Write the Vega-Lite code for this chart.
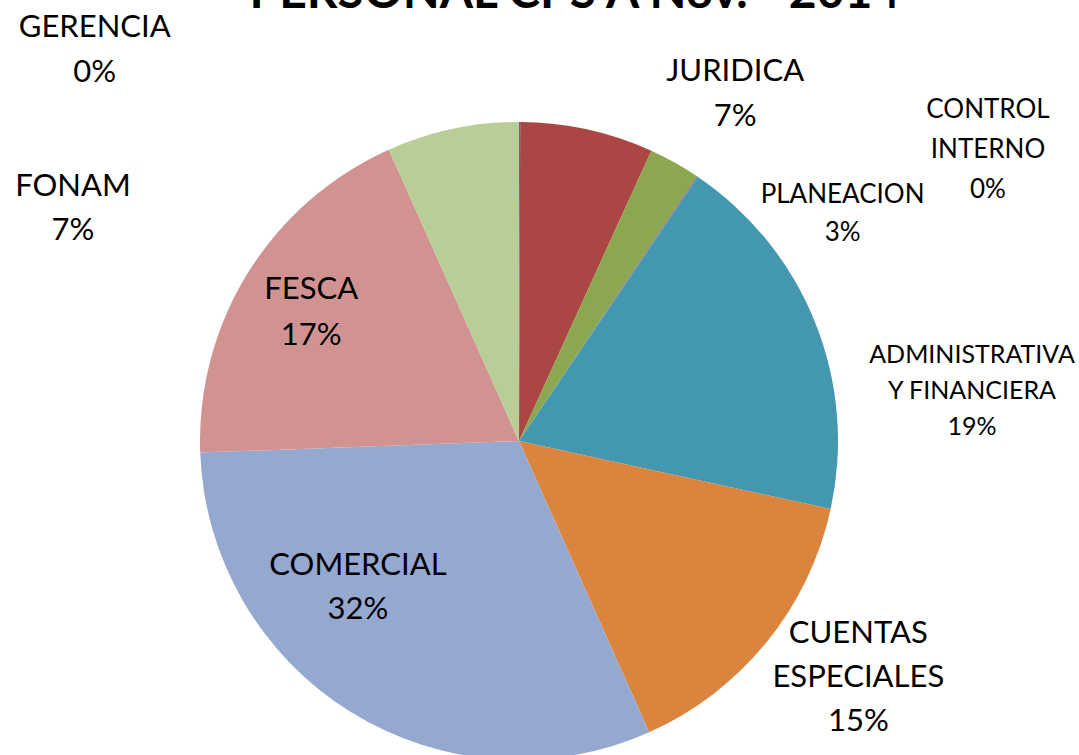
{
  "$schema": "https://vega.github.io/schema/vega-lite/v6.json",
  "width": 1038,
  "height": 882,
  "autosize": {"type": "none"},
  "padding": {"left": 0, "top": 0, "right": 41, "bottom": 0},
  "background": "white",
  "config": {"view": {"stroke": null}, "text": {"font": "Lato", "color": "black", "align": "center", "baseline": "middle", "lineBreak": "\n"}},
  "data": {"values": [
    {"order": 1, "name": "GERENCIA", "value": 0.06, "label": "GERENCIA\n0%"},
    {"order": 2, "name": "JURIDICA", "value": 6.75, "label": "JURIDICA\n7%"},
    {"order": 3, "name": "PLANEACION", "value": 2.61, "label": "PLANEACION\n3%"},
    {"order": 4, "name": "CONTROL INTERNO", "value": 0.06, "label": "CONTROL\nINTERNO\n0%"},
    {"order": 5, "name": "ADMINISTRATIVA Y FINANCIERA", "value": 18.94, "label": "ADMINISTRATIVA\nY FINANCIERA\n19%"},
    {"order": 6, "name": "CUENTAS ESPECIALES", "value": 14.89, "label": "CUENTAS\nESPECIALES\n15%"},
    {"order": 7, "name": "COMERCIAL", "value": 31.11, "label": "COMERCIAL\n32%"},
    {"order": 8, "name": "FESCA", "value": 18.89, "label": "FESCA\n17%"},
    {"order": 9, "name": "FONAM", "value": 6.69, "label": "FONAM\n7%"}
  ]},
  "encoding": {
    "theta": {"field": "value", "type": "quantitative", "stack": true},
    "order": {"field": "order", "type": "quantitative"},
    "detail": {"field": "name", "type": "nominal"}
  },
  "layer": [
    {
      "mark": {"type": "arc", "outerRadius": 319},
      "encoding": {
        "color": {"field": "name", "type": "nominal", "legend": null,
          "scale": {"domain": ["GERENCIA", "JURIDICA", "PLANEACION", "CONTROL INTERNO", "ADMINISTRATIVA Y FINANCIERA", "CUENTAS ESPECIALES", "COMERCIAL", "FESCA", "FONAM"],
                    "range": ["#4572A7", "#AA4643", "#8BA74F", "#80699B", "#4398AF", "#DB843D", "#95A9D0", "#D19392", "#B9CD96"]}}
      }
    },
    {"mark": {"type": "text", "fontSize": 48, "fontWeight": "bold", "baseline": "alphabetic", "dx": 55}, "encoding": {"radius": {"value": 433}, "text": {"condition": {"test": "datum.order === 1", "value": "PERSONAL CPS A Nov. - 2014"}, "value": ""}}},
    {"mark": {"type": "text", "fontSize": 31, "lineHeight": 45, "dx": -425, "dy": -23.5}, "encoding": {"radius": {"value": 390}, "text": {"condition": {"test": "datum.name === 'GERENCIA'", "field": "label"}, "value": ""}}},
    {"mark": {"type": "text", "fontSize": 31, "lineHeight": 45, "dx": 137, "dy": -7.5}, "encoding": {"radius": {"value": 370}, "text": {"condition": {"test": "datum.name === 'JURIDICA'", "field": "label"}, "value": ""}}},
    {"mark": {"type": "text", "fontSize": 26, "lineHeight": 38, "dx": 143, "dy": 77}, "encoding": {"radius": {"value": 370}, "text": {"condition": {"test": "datum.name === 'PLANEACION'", "field": "label"}, "value": ""}}},
    {"mark": {"type": "text", "fontSize": 26, "lineHeight": 40, "dx": 234, "dy": 17}, "encoding": {"radius": {"value": 420}, "text": {"condition": {"test": "datum.name === 'CONTROL INTERNO'", "field": "label"}, "value": ""}}},
    {"mark": {"type": "text", "fontSize": 25, "lineHeight": 36, "dx": 63, "dy": 70}, "encoding": {"radius": {"value": 420}, "text": {"condition": {"test": "datum.name === 'ADMINISTRATIVA Y FINANCIERA'", "field": "label"}, "value": ""}}},
    {"mark": {"type": "text", "fontSize": 31, "lineHeight": 44, "dx": 29, "dy": -59}, "encoding": {"radius": {"value": 400}, "text": {"condition": {"test": "datum.name === 'CUENTAS ESPECIALES'", "field": "label"}, "value": ""}}},
    {"mark": {"type": "text", "fontSize": 31, "lineHeight": 44, "dx": -50, "dy": -53}, "encoding": {"radius": {"value": 210}, "text": {"condition": {"test": "datum.name === 'COMERCIAL'", "field": "label"}, "value": ""}}},
    {"mark": {"type": "text", "fontSize": 31, "lineHeight": 46, "dx": -4, "dy": -24}, "encoding": {"radius": {"value": 240}, "text": {"condition": {"test": "datum.name === 'FESCA'", "field": "label"}, "value": ""}}},
    {"mark": {"type": "text", "fontSize": 31, "lineHeight": 44, "dx": -396, "dy": -19}, "encoding": {"radius": {"value": 240}, "text": {"condition": {"test": "datum.name === 'FONAM'", "field": "label"}, "value": ""}}}
  ]
}
